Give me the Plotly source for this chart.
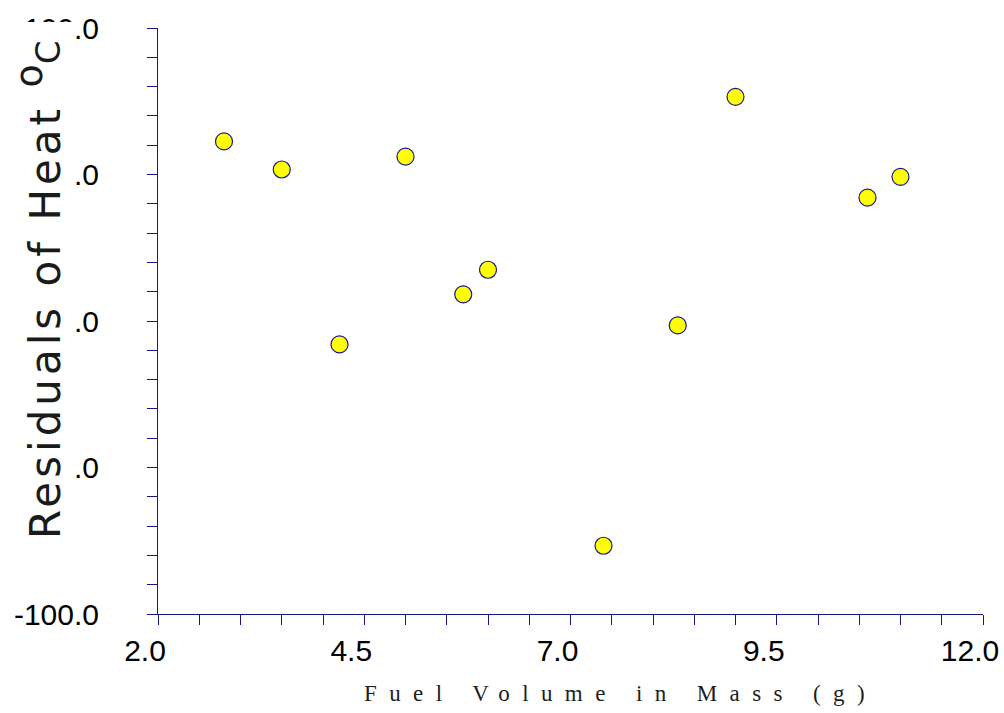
import plotly.graph_objects as go

# Data
fuel_mass = [2.8, 3.5, 4.2, 5.0, 5.7, 6.0, 7.4, 8.3, 9.0, 10.6, 11.0]
residuals = [61.3, 51.7, -8.0, 56.1, 9.1, 17.5, -76.7, -1.5, 76.5, 42.1, 49.2]

x_range = [2.0, 12.0]
y_range = [-100.0, 100.0]
x_tickvals = [2.0, 4.5, 7.0, 9.5, 12.0]
x_ticktext = ["2.0", "4.5", "7.0", "9.5", "12.0"]
y_tickvals = [-100, -50, 0, 50, 100]
y_ticktext = ["-100.0", "-50.0", "0.0", "50.0", "100.0"]

AXIS = "#16168a"
W, H = 1004, 713
ML, MR, MT, MB = 158, 21, 28, 99
PW, PH = W - ML - MR, H - MT - MB


def px_x(p):
    return (p - ML) / PW


def px_y(p):
    return (H - MB - p) / PH


fig = go.Figure()
fig.add_trace(go.Scatter(
    x=fuel_mass, y=residuals, mode="markers",
    marker=dict(size=17, color="#ffff00", line=dict(color=AXIS, width=1.2)),
    showlegend=False, cliponaxis=False,
))

tick_font = dict(family="Liberation Sans, Arial, sans-serif", size=30, color="#000000")

fig.update_layout(
    width=W, height=H,
    margin=dict(l=ML, r=MR, t=MT, b=MB, pad=0, autoexpand=False),
    paper_bgcolor="white", plot_bgcolor="white",
    xaxis=dict(
        range=x_range, tickmode="array", tickvals=x_tickvals, ticktext=x_ticktext,
        automargin=False,
        showgrid=False, zeroline=False, showline=True, linecolor=AXIS, linewidth=1,
        ticks="outside", ticklen=10, tickwidth=1, tickcolor=AXIS,
        minor=dict(dtick=0.5, tick0=2.0, ticks="outside", ticklen=10, tickwidth=1, tickcolor=AXIS, showgrid=False),
        tickfont=tick_font, ticklabelstandoff=0, ticklabelshift=-13,
    ),
    yaxis=dict(
        range=y_range, tickmode="array", tickvals=y_tickvals, ticktext=y_ticktext,
        automargin=False,
        showgrid=False, zeroline=False, showline=True, linecolor=AXIS, linewidth=1,
        ticks="outside", ticklen=10, tickwidth=1, tickcolor=AXIS,
        minor=dict(dtick=10, tick0=-100, ticks="outside", ticklen=10, tickwidth=1, tickcolor=AXIS, showgrid=False),
        tickfont=tick_font, ticklabelstandoff=42,
    ),
    shapes=[dict(
        type="rect", xref="paper", yref="paper", layer="above",
        x0=px_x(0), x1=px_x(75), y0=px_y(590), y1=px_y(22),
        fillcolor="white", line=dict(width=0),
    )],
)

# y-axis title (drawn over the white box)
fig.add_annotation(
    xref="paper", yref="paper", x=px_x(38), y=px_y(290),
    xanchor="center", yanchor="middle", textangle=-90, showarrow=False,
    text='<span style="letter-spacing:4px">Residuals of Heat </span>'
         '<sup><span style="font-size:38px">o</span></sup>'
         '<span style="font-size:34px">C</span>',
    font=dict(family="DejaVu Sans, Arial, sans-serif", size=42, color="#1a1a1a"),
)

# x-axis title
fig.add_annotation(
    xref="paper", yref="paper", x=px_x(620), y=px_y(693),
    xanchor="center", yanchor="middle", showarrow=False,
    text='<span style="letter-spacing:12.4px">Fuel Volume in Mass (g)</span>',
    font=dict(family="Liberation Serif, Times New Roman, serif", size=23, color="#1e1e1e"),
)

fig.write_html("out.html", config={"displayModeBar": False},
               post_script="document.body.style.margin='0px';")
